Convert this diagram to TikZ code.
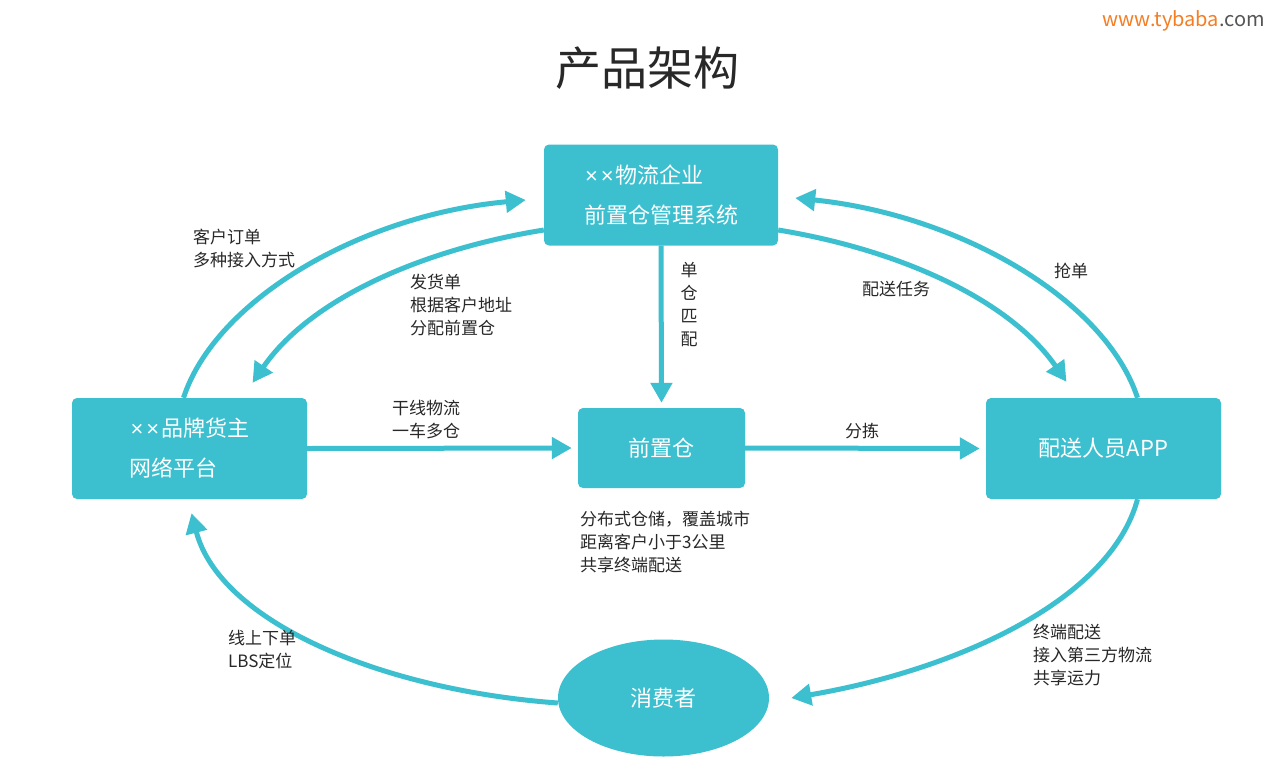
\documentclass[tikz,border=0pt]{standalone}
\usepackage{fontspec}
\setmainfont{Noto Sans CJK SC}
\newfontfamily\latf{Liberation Sans}
\usetikzlibrary{arrows.meta,shapes.geometric}
\definecolor{teal}{RGB}{60,191,206}
\definecolor{txt}{RGB}{40,40,40}
\definecolor{orng}{RGB}{245,125,35}
\definecolor{urlgray}{RGB}{85,85,85}
\newcommand{\xx}{{\latf \kern1pt×\kern3pt×\kern2pt}}
\begin{document}
\begin{tikzpicture}[x=1pt,y=-1pt,
  box/.style={fill=teal,draw=none,rounded corners=5pt,text=white,inner sep=0pt,align=left,font=\fontsize{22}{40}\selectfont},
  lbl/.style={text=txt,inner sep=0pt,align=left,anchor=west,font=\fontsize{17}{23}\selectfont},
  conn/.style={draw=teal,line width=5pt,-{Triangle[length=20pt,width=21pt]}}]
\useasboundingbox (0,0) rectangle (1280,780);
\fill[white] (0,0) rectangle (1280,780);
% title and url
\node[text=txt,inner sep=0pt,font=\fontsize{46}{50}\selectfont] (title) at (647,68) {产品架构};
\node[inner sep=0pt,anchor=east,font=\fontsize{20}{22}\selectfont] (url) at (1265,21) {\textcolor{orng}{www.tybaba}\textcolor{urlgray}{.com}};
% nodes
\node[box,minimum width=234pt,minimum height=101pt] (top) at (661,195) {\xx 物流企业\\前置仓管理系统};
\node[box,minimum width=235pt,minimum height=101pt] (lb) at (189.5,448.5) {\xx 品牌货主\\网络平台};
\node[box,minimum width=167pt,minimum height=80pt,align=center] (mid) at (661.5,448) {前置仓};
\node[box,minimum width=235pt,minimum height=101pt,align=center] (rb) at (1103.5,448.5) {配送人员APP};
\node[fill=teal,ellipse,inner sep=0pt,minimum width=211pt,minimum height=117pt,text=white,font=\fontsize{22}{26}\selectfont] (ell) at (663.5,698) {消费者};
% connectors
\draw[conn] ([shift={(-6,0)}]lb.north) .. controls +(32,-98) and +(-165,15) .. ([shift={(-18,5)}]top.west);
\draw[conn] ([shift={(0,35)}]top.west) .. controls +(-124,20) and +(57,-83) .. ([shift={(63,-15)}]lb.north);
\draw[conn] (top.south) -- ([shift={(0,-5)}]mid.north);
\draw[conn] (lb.east) -- ([shift={(-6,0)}]mid.west);
\draw[conn] (mid.east) -- ([shift={(-6,0)}]rb.west);
\draw[conn] ([shift={(0,35)}]top.east) .. controls +(122,20) and +(-57,-82) .. ([shift={(-37,-16)}]rb.north);
\draw[conn] ([shift={(34,0)}]rb.north) .. controls +(-32,-98) and +(165,17) .. ([shift={(17,3)}]top.east);
\draw[conn] ([shift={(34,0)}]rb.south) .. controls +(-27,101) and +(165,-28) .. ([shift={(22,0)}]ell.east);
\draw[conn] ([shift={(0,5)}]ell.west) .. controls +(-178,-13) and +(28,108) .. ([shift={(2,14)}]lb.south);
% labels
\node[lbl] (l1) at (193,248.5) {客户订单\\多种接入方式};
\node[lbl] (l2) at (410,305) {发货单\\根据客户地址\\分配前置仓};
\node[lbl,align=center,anchor=center] (l3) at (689,305) {单\\仓\\匹\\配};
\node[lbl] (l4) at (392,419.5) {干线物流\\一车多仓};
\node[lbl,anchor=center] (l5) at (862,431) {分拣};
\node[lbl,anchor=center] (l6) at (896,289) {配送任务};
\node[lbl,anchor=center] (l7) at (1071,271) {抢单};
\node[lbl] (l8) at (580,542) {分布式仓储，覆盖城市\\距离客户小于3公里\\共享终端配送};
\node[lbl] (l9) at (1033,655) {终端配送\\接入第三方物流\\共享运力};
\node[lbl] (l10) at (228,650) {线上下单\\LBS定位};
\end{tikzpicture}
\end{document}
